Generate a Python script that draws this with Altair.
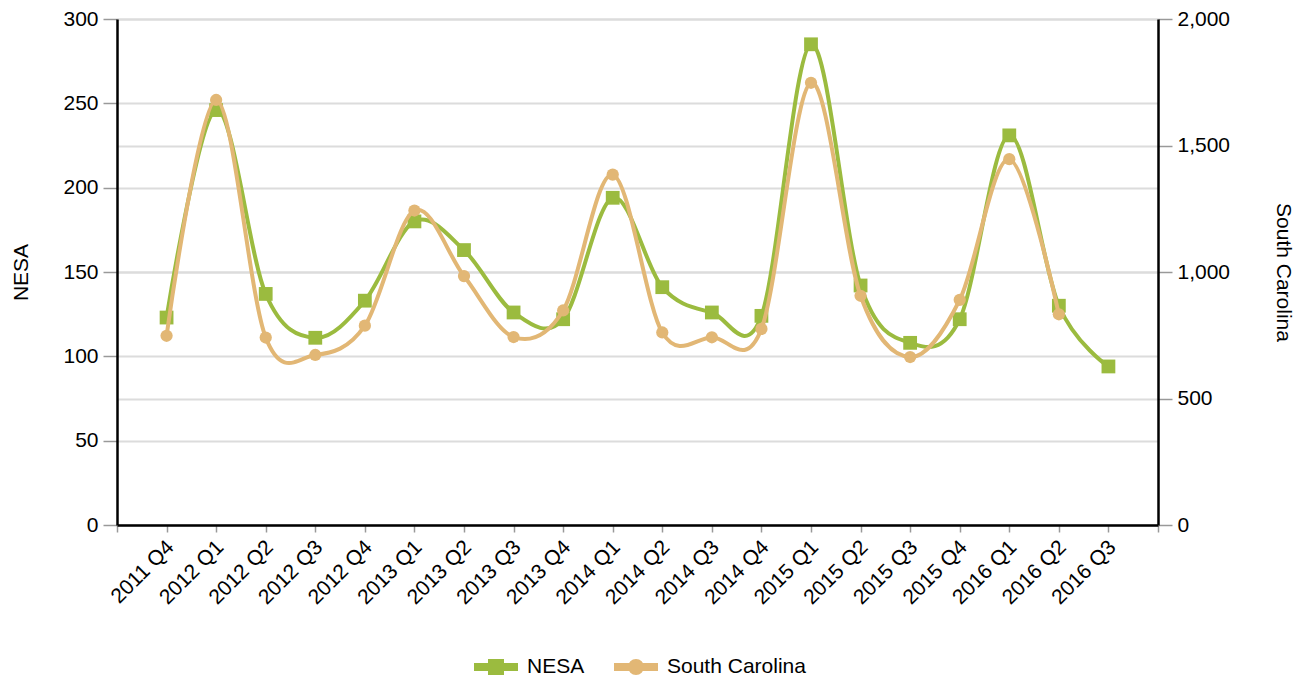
import altair as alt
import pandas as pd

quarters = ["2011 Q4", "2012 Q1", "2012 Q2", "2012 Q3", "2012 Q4",
            "2013 Q1", "2013 Q2", "2013 Q3", "2013 Q4", "2014 Q1",
            "2014 Q2", "2014 Q3", "2014 Q4", "2015 Q1", "2015 Q2",
            "2015 Q3", "2015 Q4", "2016 Q1", "2016 Q2", "2016 Q3"]
nesa = [123, 246, 137, 111, 133, 180, 163, 126, 122, 194,
        141, 126, 124, 285, 142, 108, 122, 231, 130, 94]
south_carolina = [748, 1680, 741, 672, 788, 1243, 984, 743, 848, 1385,
                  761, 742, 775, 1748, 906, 664, 890, 1446, 833]
series_names = ["NESA", "South Carolina"]

GREEN = "#9bbb3f"
TAN = "#e2b775"
FONT = "Liberation Sans"
FS = 21

df_n = pd.DataFrame({"idx": list(range(1, len(nesa) + 1)), "value": nesa,
                     "quarter": quarters[:len(nesa)], "series": series_names[0]})
df_s = pd.DataFrame({"idx": list(range(1, len(south_carolina) + 1)), "value": south_carolina,
                     "quarter": quarters[:len(south_carolina)], "series": series_names[1]})
df_leg = pd.DataFrame({"series": series_names})

label_arr = "[" + ",".join("'" + q + "'" for q in quarters) + "]"
x_enc = alt.X("idx:Q",
              scale=alt.Scale(domain=[0, len(quarters) + 1], nice=False, zero=False),
              axis=alt.Axis(values=list(range(0, len(quarters) + 2)),
                            labelExpr=label_arr + "[datum.value - 1] || ''",
                            labelAngle=-45, labelFontSize=FS, labelColor="#000",
                            labelPadding=4, labelOffset=-4, labelFont=FONT,
                            tickColor="#999", tickSize=7, tickWidth=1.5,
                            domainColor="#000", domainWidth=2.5,
                            grid=False, title=None, labelOverlap=False))

sq = "M-1,-0.1H1V0.1H-1Z M-0.3,-0.3H0.3V0.3H-0.3Z"
ci = "M-1,-0.1H1V0.1H-1Z M-0.3,0A0.3,0.3 0 1,0 0.3,0A0.3,0.3 0 1,0 -0.3,0Z"

y_left = alt.Y("value:Q", scale=alt.Scale(domain=[0, 300], nice=False),
               axis=alt.Axis(orient="left", values=[0, 50, 100, 150, 200, 250, 300],
                             title="NESA", titleFontSize=FS, titleFontWeight="normal",
                             titleFont=FONT, titleColor="#000", titlePadding=31,
                             labelFontSize=FS, labelFont=FONT, labelColor="#000", labelPadding=5,
                             tickColor="#999", tickSize=14, tickWidth=1.5,
                             domainColor="#000", domainWidth=2.5,
                             grid=True, gridColor="#dcdcdc", gridWidth=2))
y_right = alt.Y("value:Q", scale=alt.Scale(domain=[0, 2000], nice=False),
                axis=alt.Axis(orient="right", values=[0, 500, 1000, 1500, 2000], format=",.0f",
                              title="South Carolina", titleFontSize=FS, titleFontWeight="normal",
                              titleFont=FONT, titleColor="#000", titlePadding=43,
                              labelFontSize=FS, labelFont=FONT, labelColor="#000", labelPadding=5,
                              tickColor="#999", tickSize=14, tickWidth=1.5,
                              domainColor="#000", domainWidth=2.5,
                              grid=True, gridColor="#dcdcdc", gridWidth=2))

LEG_X = 357
LEG_Y = 626

stroke_leg = alt.Legend(orient="none", legendX=LEG_X, legendY=LEG_Y, title=None, direction="horizontal",
                        symbolType="stroke", symbolSize=1600, symbolStrokeWidth=4,
                        labelFontSize=FS, labelFont=FONT, labelColor="#000",
                        labelOffset=9, columnPadding=23)
stroke_enc = alt.Stroke("series:N", scale=alt.Scale(domain=series_names, range=[GREEN, TAN]), legend=stroke_leg)
fill_enc = alt.Fill("series:N", scale=alt.Scale(domain=series_names, range=[GREEN, TAN]), legend=None)

n_line = alt.Chart(df_n).mark_line(strokeWidth=4, interpolate="cardinal").encode(
    x=x_enc, y=y_left, stroke=stroke_enc)
n_pts = alt.Chart(df_n).mark_point(shape="square", filled=True, size=190, opacity=1, strokeWidth=0).encode(
    x=x_enc, y=y_left, fill=fill_enc)
s_line = alt.Chart(df_s).mark_line(strokeWidth=4, interpolate="cardinal").encode(
    x=x_enc, y=y_right, stroke=stroke_enc)
s_pts = alt.Chart(df_s).mark_point(shape="circle", filled=True, size=150, opacity=1, strokeWidth=0).encode(
    x=x_enc, y=y_right, fill=fill_enc)

leg = alt.Legend(orient="none", legendX=LEG_X, legendY=LEG_Y, title=None, direction="horizontal",
                 symbolSize=1600, labelFontSize=FS, labelFont=FONT,
                 labelColor="#000", labelOffset=9, columnPadding=23,
                 symbolStrokeWidth=0, symbolOpacity=1)
legend_layer = alt.Chart(df_leg).mark_point(filled=True, opacity=0).encode(
    color=alt.Color("series:N", scale=alt.Scale(domain=series_names, range=[GREEN, TAN]), legend=leg),
    shape=alt.Shape("series:N", scale=alt.Scale(domain=series_names, range=[sq, ci]), legend=leg),
)

chart = alt.layer(alt.layer(n_line, n_pts), alt.layer(s_line, s_pts), legend_layer).resolve_scale(
    y="independent"
).properties(
    width=1041, height=506,
    autosize=alt.AutoSizeParams(type="none"),
    padding={"left": 109, "top": 11, "right": 140, "bottom": 153},
    background="#ffffff"
).configure_view(stroke=None)

chart.save("out.html", embed_options={"renderer": "svg", "actions": False})
